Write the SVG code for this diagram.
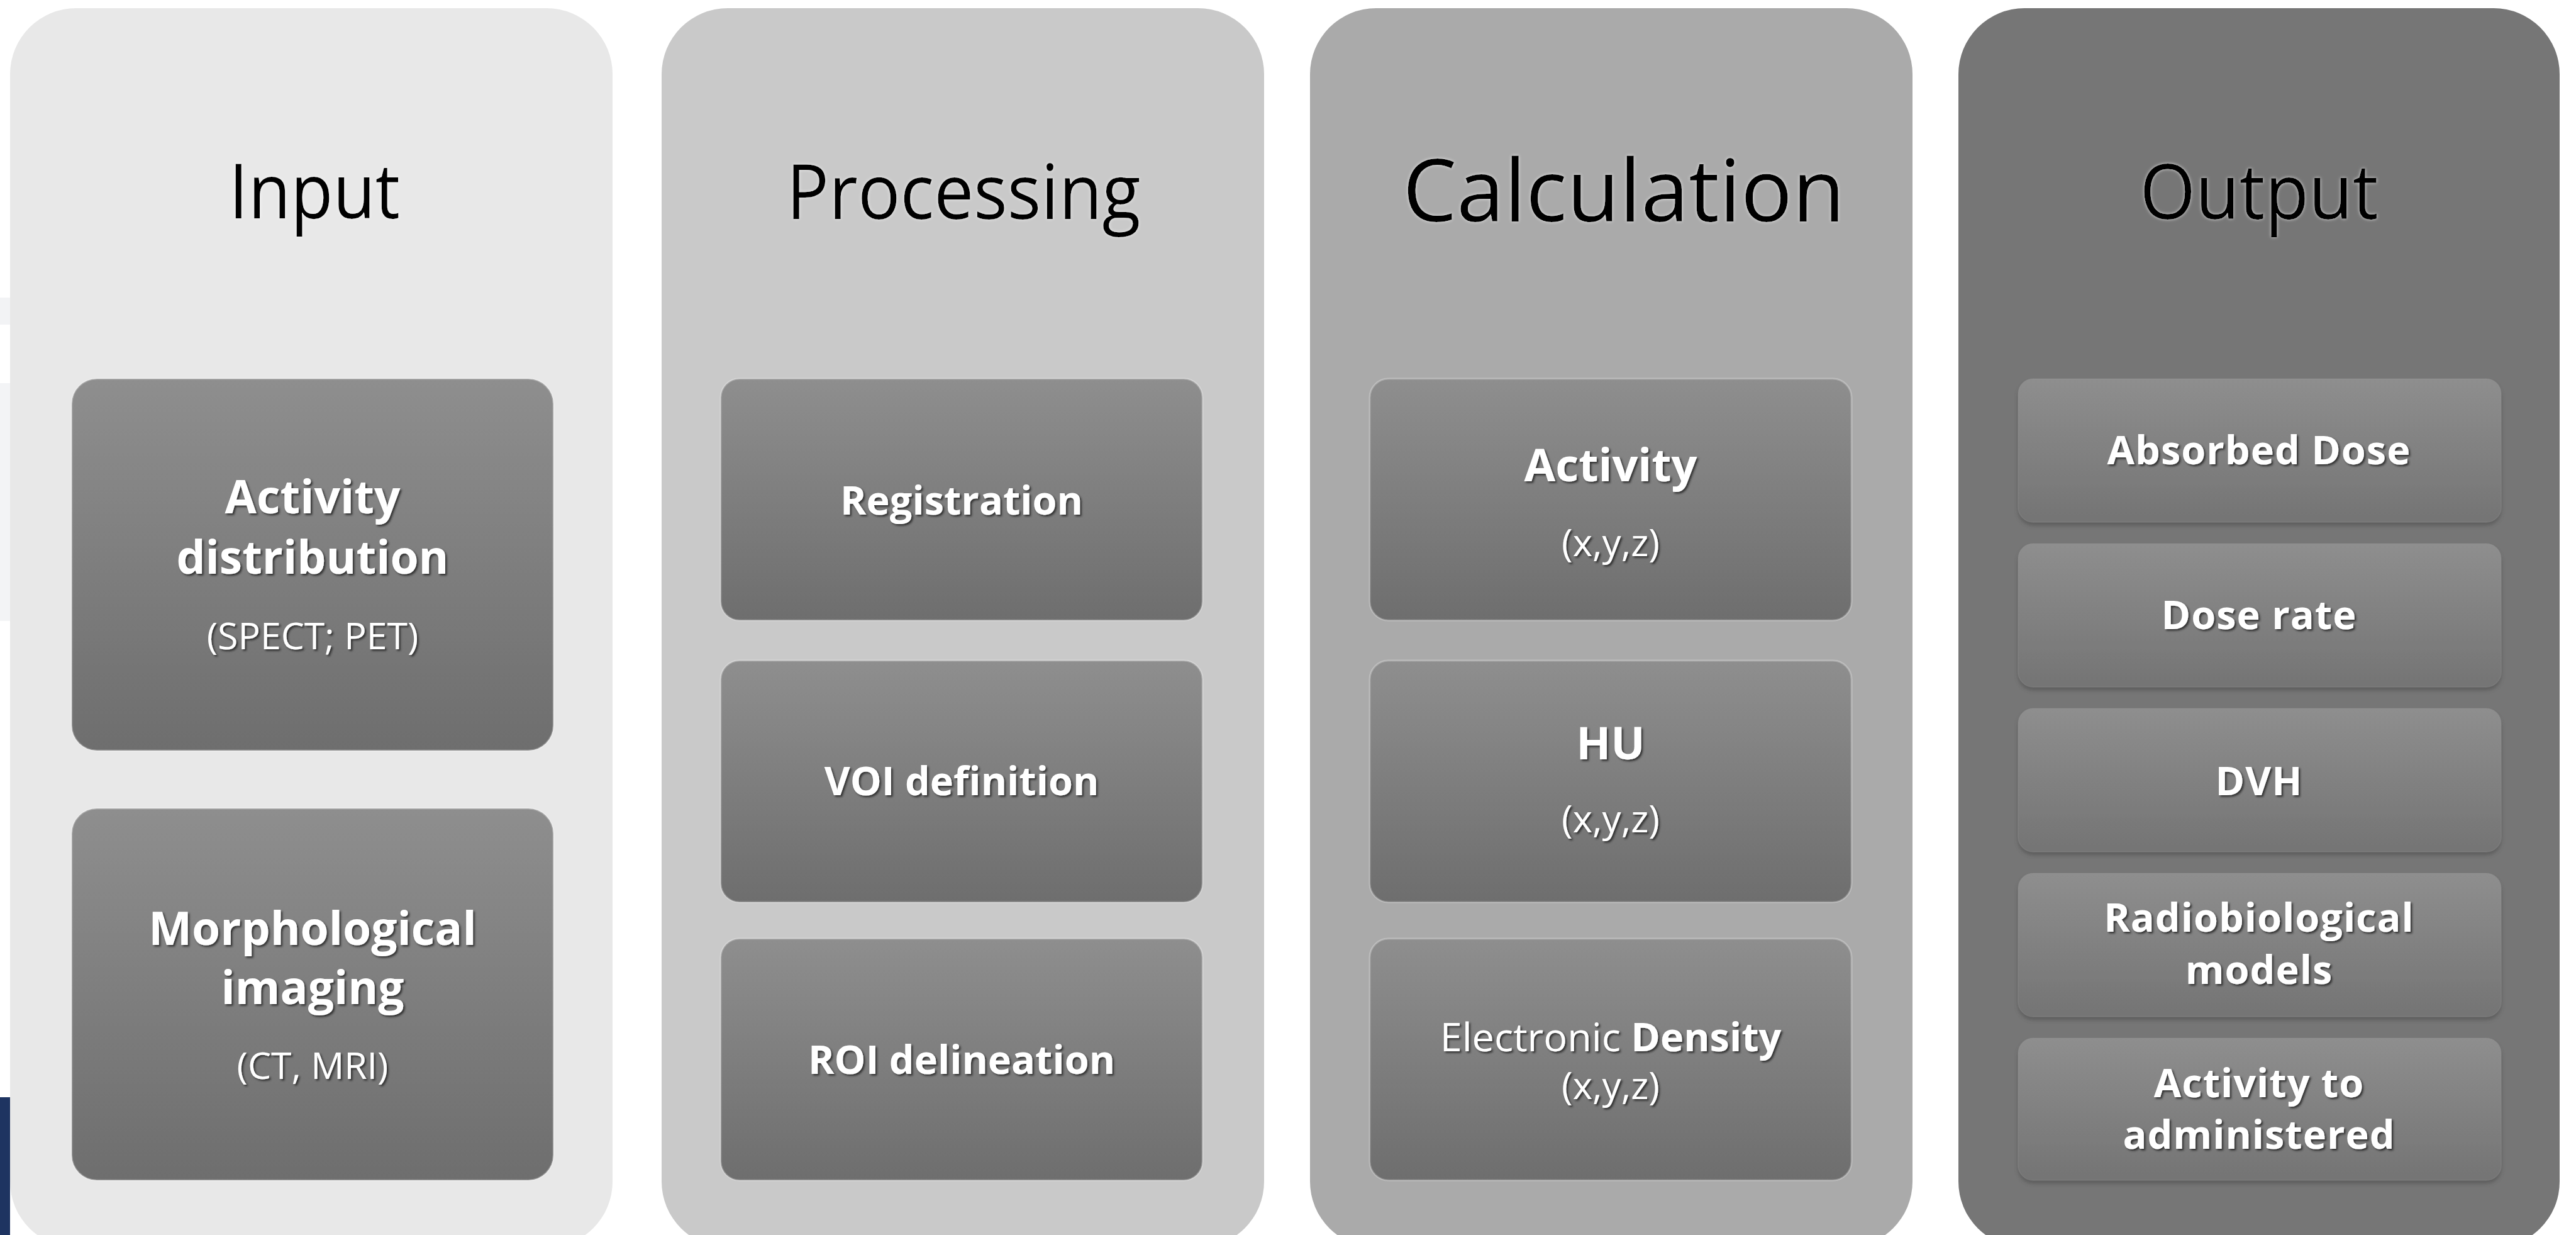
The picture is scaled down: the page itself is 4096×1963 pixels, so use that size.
<svg xmlns="http://www.w3.org/2000/svg" width="4096" height="1963" viewBox="0 0 4096 1963">
<defs>
<linearGradient id="ng" x1="0" y1="0" x2="0" y2="1"><stop offset="0" stop-color="#8e8e8e"/><stop offset="1" stop-color="#6e6e6e"/></linearGradient>
<linearGradient id="og" x1="0" y1="0" x2="0" y2="1"><stop offset="0" stop-color="#8e8e8e"/><stop offset="1" stop-color="#747474"/></linearGradient>
<filter id="ts" x="-10%" y="-30%" width="120%" height="160%"><feDropShadow dx="2.5" dy="2.5" stdDeviation="1.5" flood-color="#262626" flood-opacity="0.85"/></filter>
<filter id="th" x="-10%" y="-30%" width="120%" height="160%"><feDropShadow dx="0" dy="0" stdDeviation="2.5" flood-color="#ffffff" flood-opacity="0.7"/></filter>
<filter id="os" x="-5%" y="-10%" width="110%" height="130%"><feDropShadow dx="0" dy="5" stdDeviation="3" flood-color="#4a4a4a" flood-opacity="0.55"/></filter>
</defs>
<style>
.title{font-family:'Open Sans','Noto Sans',sans-serif;font-weight:500;fill:#000;text-anchor:middle;}
.nb{font-family:'Open Sans','Noto Sans',sans-serif;font-weight:700;fill:#fff;text-anchor:middle;}
.nr{font-family:'Open Sans','Noto Sans',sans-serif;font-weight:400;fill:#fff;text-anchor:middle;}
.node{fill:url(#ng);stroke:#ffffff;stroke-opacity:0.25;stroke-width:3;}
.onode{fill:url(#og);stroke:#9a9a9a;stroke-opacity:0.25;stroke-width:1.5;}
</style>
<rect x="0" y="0" width="4096" height="1963" fill="#ffffff"/>
<rect x="0" y="473" width="16" height="43" fill="#f2f3f5"/>
<rect x="0" y="609" width="16" height="378" fill="#f3f4f6"/>
<rect x="0" y="1744" width="16" height="219" fill="#1e3461"/>

<g id="col-input">
<rect x="16" y="13" width="958" height="1970" rx="105" fill="#e8e8e8"/>
<text class="title" x="500" y="347" font-size="121" textLength="272" lengthAdjust="spacingAndGlyphs" filter="url(#th)">Input</text>
</g>
<g id="col-processing">
<rect x="1052" y="13" width="958" height="1970" rx="105" fill="#c9c9c9"/>
<text class="title" x="1532" y="348" font-size="121" textLength="563" lengthAdjust="spacingAndGlyphs" filter="url(#th)">Processing</text>
</g>
<g id="col-calculation">
<rect x="2083" y="13" width="958" height="1970" rx="105" fill="#aaaaaa"/>
<text class="title" x="2582" y="352" font-size="138" textLength="703" lengthAdjust="spacingAndGlyphs" filter="url(#th)">Calculation</text>
</g>
<g id="col-output">
<rect x="3114" y="13" width="956" height="1970" rx="105" fill="#767676"/>
<text class="title" x="3592" y="348" font-size="121" textLength="379" lengthAdjust="spacingAndGlyphs" filter="url(#th)">Output</text>
</g>

<g id="node-activity-distribution">
<rect class="node" x="114" y="602" width="766" height="591" rx="40"/>
<text class="nb" x="497" y="816" font-size="73" filter="url(#ts)">Activity</text>
<text class="nb" x="497" y="912" font-size="73" filter="url(#ts)">distribution</text>
<text class="nr" x="497" y="1032" font-size="59" filter="url(#ts)">(SPECT; PET)</text>
</g>
<g id="node-morphological-imaging">
<rect class="node" x="114" y="1285" width="766" height="591" rx="40"/>
<text class="nb" x="497" y="1502" font-size="73" filter="url(#ts)">Morphological</text>
<text class="nb" x="497" y="1596" font-size="73" filter="url(#ts)">imaging</text>
<text class="nr" x="497" y="1715" font-size="59" filter="url(#ts)">(CT, MRI)</text>
</g>

<g id="node-registration">
<rect class="node" x="1146" y="602" width="766" height="384" rx="30"/>
<text class="nb" x="1529" y="818" font-size="63" filter="url(#ts)">Registration</text>
</g>
<g id="node-voi">
<rect class="node" x="1146" y="1050" width="766" height="384" rx="30"/>
<text class="nb" x="1529" y="1264" font-size="63" filter="url(#ts)">VOI definition</text>
</g>
<g id="node-roi">
<rect class="node" x="1146" y="1492" width="766" height="384" rx="30"/>
<text class="nb" x="1529" y="1707" font-size="63" filter="url(#ts)">ROI delineation</text>
</g>

<g id="node-activity-xyz">
<rect class="node" x="2178" y="602" width="766" height="384" rx="30"/>
<text class="nb" x="2561" y="765" font-size="72" filter="url(#ts)">Activity</text>
<text class="nr" x="2561" y="884" font-size="60" filter="url(#ts)">(x,y,z)</text>
</g>
<g id="node-hu">
<rect class="node" x="2178" y="1050" width="766" height="384" rx="30"/>
<text class="nb" x="2561" y="1207" font-size="72" filter="url(#ts)">HU</text>
<text class="nr" x="2561" y="1323" font-size="60" filter="url(#ts)">(x,y,z)</text>
</g>
<g id="node-electronic-density">
<rect class="node" x="2178" y="1492" width="766" height="384" rx="30"/>
<text class="nr" x="2561" y="1671" font-size="63" filter="url(#ts)">Electronic <tspan font-weight="700">Density</tspan></text>
<text class="nr" x="2561" y="1747" font-size="60" filter="url(#ts)">(x,y,z)</text>
</g>

<g id="node-absorbed-dose">
<rect class="onode" x="3209" y="602" width="768" height="228" rx="24" filter="url(#os)"/>
<text class="nb" x="3592" y="738" font-size="63" letter-spacing="1" filter="url(#ts)">Absorbed Dose</text>
</g>
<g id="node-dose-rate">
<rect class="onode" x="3209" y="864" width="768" height="228" rx="24" filter="url(#os)"/>
<text class="nb" x="3592" y="1000" font-size="63" letter-spacing="1" filter="url(#ts)">Dose rate</text>
</g>
<g id="node-dvh">
<rect class="onode" x="3209" y="1126" width="768" height="228" rx="24" filter="url(#os)"/>
<text class="nb" x="3592" y="1264" font-size="63" letter-spacing="1" filter="url(#ts)">DVH</text>
</g>
<g id="node-radiobiological">
<rect class="onode" x="3209" y="1388" width="768" height="228" rx="24" filter="url(#os)"/>
<text class="nb" x="3592" y="1481" font-size="63" letter-spacing="1" filter="url(#ts)">Radiobiological</text>
<text class="nb" x="3592" y="1564" font-size="63" letter-spacing="1" filter="url(#ts)">models</text>
</g>
<g id="node-activity-administered">
<rect class="onode" x="3209" y="1650" width="768" height="226" rx="24" filter="url(#os)"/>
<text class="nb" x="3592" y="1744" font-size="63" letter-spacing="1" filter="url(#ts)">Activity to</text>
<text class="nb" x="3592" y="1826" font-size="63" letter-spacing="1" filter="url(#ts)">administered</text>
</g>

<g id="connectors"></g>
</svg>
